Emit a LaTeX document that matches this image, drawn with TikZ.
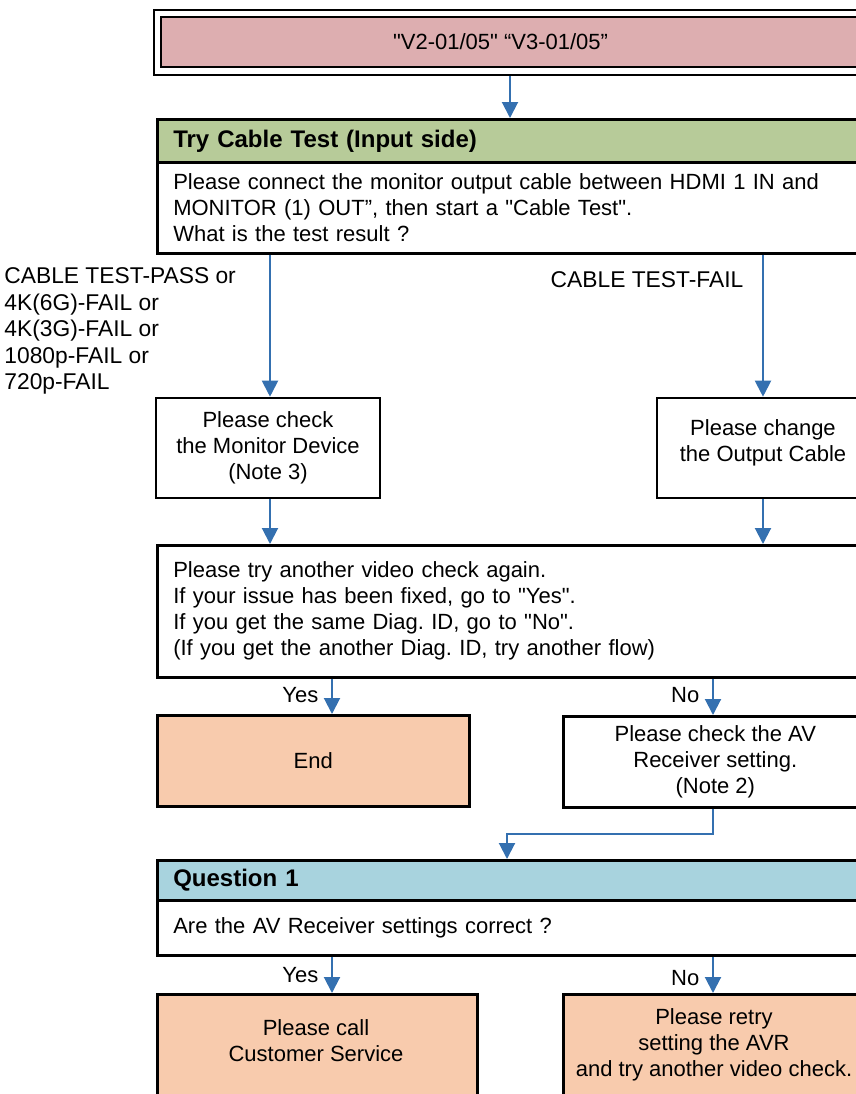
\documentclass[tikz,border=0pt]{standalone}
\usepackage{fontspec}
\setmainfont{Liberation Sans}[Ligatures=TeXOff]
\usepackage{xcolor}
\usetikzlibrary{positioning,arrows.meta}

\definecolor{codepink}{RGB}{221,174,176}
\definecolor{stepgreen}{RGB}{183,203,153}
\definecolor{askblue}{RGB}{168,211,222}
\definecolor{endpeach}{RGB}{248,203,173}
\definecolor{flowblue}{RGB}{52,112,176}

\tikzset{
	frame/.style={draw, line width=1.3pt, inner sep=0pt},
	headbox/.style={frame, anchor=north west, minimum width=355pt, text width=339pt, inner xsep=8pt, align=left, font=\fontsize{12pt}{14pt}\selectfont\bfseries},
	bodybox/.style={frame, fill=white, anchor=north west, minimum width=355pt, text width=339pt, inner xsep=8pt, align=left},
	textbox/.style={frame, fill=white, align=center},
	flow/.style={draw=flowblue, line width=1pt, -{Triangle[length=8pt,width=8pt]}},
	answer/.style={inner sep=0pt, align=left, font=\fontsize{11.4pt}{13.3pt}\selectfont}
}

\begin{document}
\frenchspacing
\begin{tikzpicture}[x=0.5pt, y=-0.5pt, font=\fontsize{11pt}{13pt}\selectfont]
	\useasboundingbox (0,0) rectangle (856,1094);
	\clip (0,0) rectangle (856,1094);

	% arrow columns
	\coordinate (colMid) at (510,0);
	\coordinate (colL) at (270,0);
	\coordinate (colR) at (763,0);
	\coordinate (colYes) at (332,0);
	\coordinate (colNo) at (713,0);
	\coordinate (colQ) at (507,0);

	% diag ID
	\node[frame, line width=1.1pt, anchor=north west, minimum width=356.5pt, minimum height=32.5pt] (start) at (153,9) {};
	\node[frame, line width=1.1pt, fill=codepink, anchor=north west, minimum width=349.5pt, minimum height=25pt] (code) at (160,16) {\hspace*{-10pt}"V2-01/05" “V3-01/05”};

	% cable test
	\node[headbox, fill=stepgreen, minimum height=21.5pt] (tryhead) at (156,118) {Try Cable Test (Input side)};
	\node[bodybox, minimum height=45.5pt] (trybody) at (156,161) {Please connect the monitor output cable between HDMI 1 IN and\\MONITOR (1) OUT”, then start a "Cable Test".\\What is the test result ?};

	\node[answer, anchor=west] (passlbl) at (4,331) {CABLE TEST-PASS or\\4K(6G)-FAIL or\\4K(3G)-FAIL or\\1080p-FAIL or\\720p-FAIL};
	\node[answer] (faillbl) at (647,280) {CABLE TEST-FAIL};

	\node[textbox, minimum width=112pt, minimum height=50pt] (monitor) at (268,448) {Please check\\the Monitor Device\\(Note 3)};
	\node[textbox, minimum width=106pt, minimum height=50pt] (change) at (763,448) {Please change\\the Output Cable\\[-6pt]};

	\node[bodybox, minimum height=66pt] (again) at (156,544) {Please try another video check again.\\If your issue has been fixed, go to "Yes".\\If you get the same Diag. ID, go to "No".\\(If you get the another Diag. ID, try another flow)};

	\node[frame, fill=endpeach, anchor=north west, minimum width=156pt, minimum height=45.5pt] (finish) at (156,714) {End};
	\node[textbox, anchor=north west, minimum width=152pt, minimum height=45.5pt] (avr) at (562,715) {Please check the AV\\Receiver setting.\\(Note 2)};

	% question 1
	\node[headbox, fill=askblue, minimum height=20pt] (qhead) at (156,859) {Question 1};
	\node[bodybox, minimum height=27.5pt] (qbody) at (156,899) {Are the AV Receiver settings correct ?};

	\node[frame, fill=endpeach, anchor=north west, minimum width=160pt, minimum height=60pt] (call) at (156,993) {};
	\node[align=center, inner sep=0pt] (calltext) at (316,1041) {Please call\\Customer Service};
	\node[frame, fill=endpeach, anchor=north west, minimum width=152pt, minimum height=60pt] (retry) at (562,993) {};
	\node[align=center, inner sep=0pt] (retrytext) at (714,1045) {Please retry\\setting the AVR\\and try another video check.};

	% connectors
	\draw[flow] (start.south -| colMid) -- (tryhead.north -| colMid);
	\draw[flow] (trybody.south -| colL) -- (monitor.north -| colL);
	\draw[flow] (trybody.south -| colR) -- (change.north -| colR);
	\draw[flow] (monitor.south -| colL) -- (again.north -| colL);
	\draw[flow] (change.south -| colR) -- (again.north -| colR);
	\draw[flow] (again.south -| colYes) -- node[left=3pt, pos=0.45] {Yes} (finish.north -| colYes);
	\draw[flow] (again.south -| colNo) -- node[left=3pt, pos=0.45] {No} (avr.north -| colNo);
	\draw[flow] (avr.south -| colNo) -- ++(0,25) -| (qhead.north -| colQ);
	\draw[flow] (qbody.south -| colYes) -- node[left=3pt, pos=0.5] {Yes} (call.north -| colYes);
	\draw[flow] (qbody.south -| colNo) -- node[left=3pt, pos=0.6] {No} (retry.north -| colNo);
\end{tikzpicture}
\end{document}
